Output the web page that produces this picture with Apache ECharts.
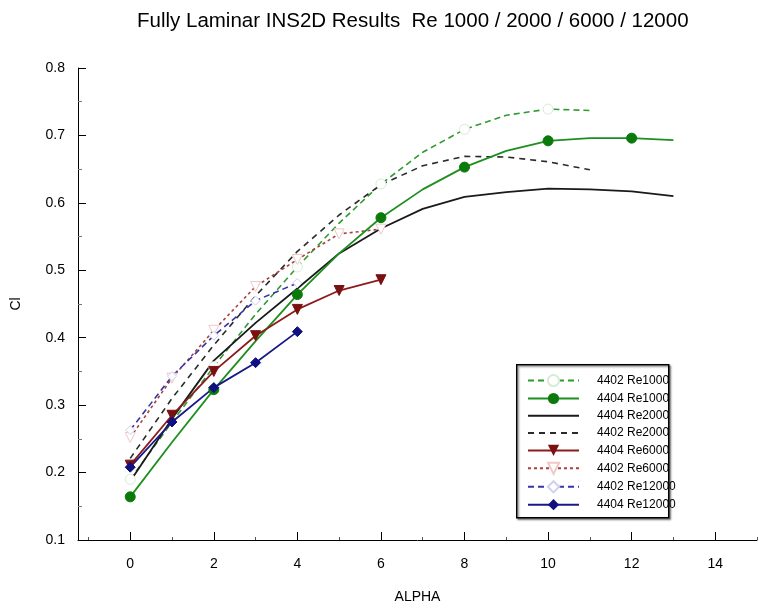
<!DOCTYPE html>
<html>
<head>
<meta charset="utf-8">
<script src="https://cdn.jsdelivr.net/npm/echarts@6/dist/echarts.min.js"></script>
<style>html,body{margin:0;padding:0;background:#fff}#c{width:759px;height:609px}</style>
</head>
<body>
<div id="c"></div>
<script>
const xTickLabels = [0, 2, 4, 6, 8, 10, 12, 14];
const xMinorTicks = [-1, 1, 3, 5, 7, 9, 11, 13, 15];

const seriesNames = ['4402 Re1000', '4404 Re1000', '4404 Re2000', '4402 Re2000',
                     '4404 Re6000', '4402 Re6000', '4402 Re12000', '4404 Re12000'];

const alpha13 = [0,1,2,3,4,5,6,7,8,9,10,11,12,13];
const alpha11 = [0,1,2,3,4,5,6,7,8,9,10,11];
const alpha6 = [0,1,2,3,4,5,6];
const alpha4 = [0,1,2,3,4];

const cl_4402_Re1000  = [0.190,0.275,0.357,0.435,0.505,0.570,0.628,0.675,0.709,0.730,0.739,0.737];
const cl_4404_Re1000  = [0.164,0.245,0.323,0.395,0.464,0.525,0.578,0.620,0.653,0.677,0.692,0.696,0.696,0.693];
const cl_4404_Re2000  = [0.187,0.280,0.366,0.422,0.473,0.525,0.562,0.591,0.609,0.616,0.621,0.620,0.617,0.610];
const cl_4402_Re2000  = [0.221,0.310,0.389,0.462,0.528,0.582,0.627,0.655,0.669,0.668,0.661,0.649];
const cl_4404_Re6000  = [0.211,0.285,0.350,0.403,0.442,0.470,0.486];
const cl_4402_Re6000  = [0.252,0.340,0.411,0.476,0.516,0.554,0.561];
const cl_4402_Re12000 = [0.263,0.343,0.403,0.455,0.481];
const cl_4404_Re12000 = [0.208,0.275,0.326,0.363,0.409];

function pts(xs, ys, markEvery) {
  return ys.map((y, i) => {
    const item = { value: [xs[i], y] };
    if (markEvery && (xs[i] % markEvery) !== 0) item.symbol = 'none';
    return item;
  });
}

const chart = echarts.init(document.getElementById('c'));
const font = 'Liberation Sans, Arial, Helvetica, sans-serif';
const noSym = { color: 'rgba(0,0,0,0)', borderColor: 'rgba(0,0,0,0)', borderWidth: 0, opacity: 0 };

chart.setOption({
  animation: false,
  backgroundColor: '#fff',
  title: {
    text: 'Fully Laminar INS2D Results  Re 1000 / 2000 / 6000 / 12000',
    left: 132, top: 6,
    textStyle: { fontFamily: font, fontWeight: 'normal', fontSize: 20.5, color: '#000' }
  },
  grid: { left: 78, top: 68, right: 2, bottom: 67, containLabel: false },
  legend: {
    data: [
      { name: seriesNames[0] }, { name: seriesNames[1] },
      { name: seriesNames[2], itemStyle: noSym }, { name: seriesNames[3], itemStyle: noSym },
      { name: seriesNames[4] }, { name: seriesNames[5] },
      { name: seriesNames[6] }, { name: seriesNames[7] }
    ],
    orient: 'vertical',
    left: 527, top: 374,
    itemWidth: 51, itemHeight: 14, itemGap: 5.3,
    padding: 0,
    textStyle: { fontFamily: font, fontSize: 12, color: '#000', padding: [0, 0, 0, 13] }
  },
  graphic: [{
    type: 'rect', left: 516, top: 364, z: 1,
    shape: { width: 152, height: 153 },
    style: { fill: '#fff', stroke: '#000', lineWidth: 1.5, shadowBlur: 2, shadowOffsetX: 1.5, shadowOffsetY: 1.5, shadowColor: 'rgba(0,0,0,0.5)' }
  }],
  xAxis: [{
    type: 'value', min: -1.25, max: 15,
    name: 'ALPHA', nameLocation: 'middle', nameGap: 50,
    nameTextStyle: { fontFamily: font, fontSize: 14, color: '#000' },
    axisLine: { show: true, onZero: false, lineStyle: { color: '#000', width: 1 } },
    axisTick: { show: true, inside: true, length: 8, customValues: xTickLabels, lineStyle: { color: '#000' } },
    axisLabel: { customValues: xTickLabels, fontFamily: font, fontSize: 14, color: '#000', margin: 17 },
    splitLine: { show: false }
  }, {
    type: 'value', min: -1.25, max: 15, position: 'bottom',
    axisLine: { show: false, onZero: false },
    axisTick: { show: true, inside: true, length: 3, customValues: xMinorTicks, lineStyle: { color: '#555' } },
    axisLabel: { show: false },
    splitLine: { show: false }
  }],
  yAxis: {
    type: 'value', min: 0.1, max: 0.8, interval: 0.1,
    name: 'Cl', nameLocation: 'middle', nameGap: 55, nameRotate: 90,
    nameTextStyle: { fontFamily: font, fontSize: 14, color: '#000' },
    axisLine: { show: true, onZero: false, lineStyle: { color: '#000', width: 1 } },
    axisTick: { show: true, inside: true, length: 8, lineStyle: { color: '#000' } },
    minorTick: { show: true, splitNumber: 2, length: 4, lineStyle: { color: '#777' } },
    axisLabel: { fontFamily: font, fontSize: 14, color: '#000', margin: 13, formatter: v => v.toFixed(1) },
    splitLine: { show: false }
  },
  series: [
    { name: seriesNames[0], type: 'line', data: pts(alpha11, cl_4402_Re1000, 2),
      symbol: 'circle', symbolSize: 10, z: 3,
      lineStyle: { color: '#2f9a2f', width: 1.6, type: [6, 4] },
      itemStyle: { color: '#fff', borderColor: '#d6ecd6', borderWidth: 1 } },
    { name: seriesNames[1], type: 'line', data: pts(alpha13, cl_4404_Re1000, 2),
      symbol: 'circle', symbolSize: 10, z: 4,
      lineStyle: { color: '#1e8f1e', width: 1.8 },
      itemStyle: { color: '#0a7a0a', borderColor: '#0a7a0a' } },
    { name: seriesNames[2], type: 'line', data: pts(alpha13, cl_4404_Re2000),
      symbol: 'none', z: 3,
      lineStyle: { color: '#1a1a1a', width: 1.8 },
      itemStyle: { color: '#1a1a1a' } },
    { name: seriesNames[3], type: 'line', data: pts(alpha11, cl_4402_Re2000),
      symbol: 'none', z: 3,
      lineStyle: { color: '#2a2a2a', width: 1.6, type: [6, 5] },
      itemStyle: { color: '#2a2a2a' } },
    { name: seriesNames[4], type: 'line', data: pts(alpha6, cl_4404_Re6000),
      symbol: 'triangle', symbolRotate: 180, symbolSize: 10, z: 4,
      lineStyle: { color: '#8b1c1c', width: 1.8 },
      itemStyle: { color: '#7a1010', borderColor: '#7a1010' } },
    { name: seriesNames[5], type: 'line', data: pts(alpha6, cl_4402_Re6000),
      symbol: 'triangle', symbolRotate: 180, symbolSize: 10, z: 3,
      lineStyle: { color: '#a84040', width: 1.6, type: [3, 3] },
      itemStyle: { color: '#fff', borderColor: '#f0c8c8', borderWidth: 1 } },
    { name: seriesNames[6], type: 'line', data: pts(alpha4, cl_4402_Re12000),
      symbol: 'diamond', symbolSize: 9, z: 3,
      lineStyle: { color: '#3535a8', width: 1.6, type: [6, 4] },
      itemStyle: { color: '#fff', borderColor: '#d0d0f0', borderWidth: 1 } },
    { name: seriesNames[7], type: 'line', data: pts(alpha4, cl_4404_Re12000),
      symbol: 'diamond', symbolSize: 10, z: 4,
      lineStyle: { color: '#18188a', width: 1.8 },
      itemStyle: { color: '#101080', borderColor: '#101080' } }
  ]
});
</script>
</body>
</html>
